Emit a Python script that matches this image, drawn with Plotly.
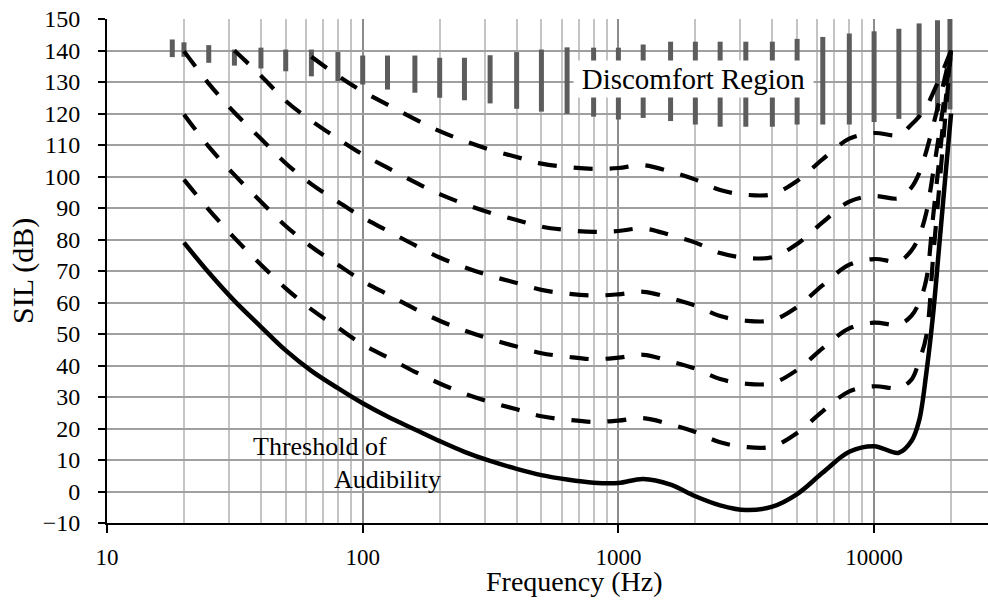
import math
import plotly.graph_objects as go

# ---------------- data ----------------
freq = [20, 25, 31.5, 40, 50, 63, 80, 100, 125, 160, 200, 250, 315, 400, 500, 630,
        800, 1000, 1250, 1600, 2000, 2500, 3150, 4000, 5000, 6300, 8000, 10000, 12500,
        14000, 15000, 16000, 17000, 18000, 19000, 20000]

threshold = [79, 69.5, 60.5, 52.3, 44.8, 38.3, 32.8, 28, 23.8, 19.7, 16, 12.6, 9.7, 7.2, 5.2, 3.8,
             2.8, 2.7, 4, 2.2, -1.5, -4.4, -5.9, -4.8, -0.8, 6, 12.6, 14.4, 12.3,
             16, 22.5, 37.5, 56, 78.5, 100, 120]

phon20 = [99, 89.5, 80.5, 72, 64.5, 57.8, 52, 46.7, 42.6, 38, 34.3, 31.1, 28.4, 26.1, 23.9, 22.8,
          22.1, 22.5, 23.3, 21.3, 18.9, 15.6, 14.1, 14.3, 18.6, 25.5, 31.8, 33.4, 32.9,
          35.5, 41.5, 49.3, 74, 97, 119, 140]

phon40 = [119.7, 109.5, 100.5, 92, 84.3, 77.7, 72, 66.8, 62.6, 58, 54.2, 51.1, 48.4, 46, 43.9, 42.8,
          42, 42.5, 43.4, 41.3, 39, 35.7, 34.2, 34.4, 38.6, 45.5, 51.8, 53.6, 53,
          55.8, 60, 67.3, 87, 105.7, 123.3, 140]

phon60 = [139.8, 129.5, 120.3, 112, 104.2, 97.6, 92, 87, 82.8, 78.2, 74.3, 71.2, 68.5, 66.2, 64, 62.8,
          62.2, 62.6, 63.4, 61.4, 59, 55.7, 54.2, 54.4, 58.6, 65.5, 72, 73.8, 73.1,
          76.5, 81, 88.5, 101, 114, 127, 140]

phon80 = [None, None, 140, 132, 124, 117.7, 112, 107, 102.8, 98.2, 94.4, 91.3, 88.5, 86.2, 84.1, 83,
          82.4, 82.7, 83.5, 81.4, 79, 75.7, 74.2, 74.4, 78.6, 85.5, 92, 93.8, 93.1,
          96.5, 101, 108, 116, 124, 132, 140]

phon100 = [None, None, None, None, None, 138, 132, 127, 122.8, 118.2, 114.4, 111.3, 108.5, 106.2, 104.1, 103,
           102.4, 102.7, 103.6, 101.5, 99, 95.7, 94.2, 94.4, 98.6, 105.5, 112, 113.8, 113.2,
           116.5, 119, 122, 126.5, 131, 135.5, 140]

discomfort_freq = [18, 20, 25, 31.5, 40, 50, 63, 80, 100, 125, 160, 200, 250, 315, 400, 500, 630,
                   800, 1000, 1250, 1600, 2000, 2500, 3150, 4000, 5000, 6300, 8000, 10000, 12500,
                   15000, 17700, 19800]
discomfort_low = [137.9, 138, 136.1, 135.2, 134.3, 133.4, 131.8, 130.3, 129.2, 127.6, 126.6, 125, 124.2,
                  123.2, 121.5, 120.6, 119.9, 119, 118.1, 118.6, 117.6, 116.5, 115.8, 115.8, 115.8,
                  116.5, 116.5, 116.5, 117.3, 118.3, 119.1, 120.7, 121.3]
discomfort_high = [143.5, 142.6, 141.7, 140.3, 140.9, 140.3, 140.3, 139.5, 138.4, 138.4, 138.4, 137.7, 137.7,
                   138.5, 139.5, 140.3, 141, 140.9, 140.9, 141.9, 142.8, 142.8, 142.8, 142.8, 142.8,
                   143.7, 144.3, 145.4, 146.1, 146.9, 148.6, 149.6, 150.5]

x_tick_vals = [10, 100, 1000, 10000]
x_tick_text = ["10", "100", "1000", "10000"]

FONT = "Liberation Serif"

# ---------------- figure ----------------
fig = go.Figure()

# discomfort region bars
bx, by = [], []
for f, lo, hi in zip(discomfort_freq, discomfort_low, discomfort_high):
    bx += [f, f, None]
    by += [lo, hi, None]
fig.add_trace(go.Scatter(x=bx, y=by, mode="lines",
                         line=dict(color="#5c5c5c", width=5),
                         hoverinfo="skip", showlegend=False))

# equal-loudness (dashed) curves
for series in [phon100, phon80, phon60, phon40, phon20]:
    fig.add_trace(go.Scatter(x=freq, y=series, mode="lines",
                             line=dict(color="black", width=4.2, dash="19px,17px",
                                       shape="spline", smoothing=1.0),
                             showlegend=False))

# threshold of audibility
fig.add_trace(go.Scatter(x=freq, y=threshold, mode="lines",
                         line=dict(color="black", width=4.5, shape="spline", smoothing=1.0),
                         showlegend=False))

fig.add_annotation(x=math.log10(1970), y=130.8, xref="x", yref="y",
                   text="Discomfort Region", showarrow=False,
                   font=dict(family=FONT, size=29, color="black"),
                   bgcolor="white", width=237, height=34, borderpad=1)
fig.add_annotation(x=math.log10(68), y=14.3, xref="x", yref="y",
                   text="Threshold of", showarrow=False,
                   font=dict(family=FONT, size=26, color="black"))
fig.add_annotation(x=math.log10(125), y=3.8, xref="x", yref="y",
                   text="Audibility", showarrow=False,
                   font=dict(family=FONT, size=26, color="black"))

# axis titles
fig.add_annotation(x=0.530, y=-0.117, xref="paper", yref="paper",
                   text="Frequency (Hz)", showarrow=False, yanchor="middle",
                   font=dict(family=FONT, size=28, color="black"))
fig.add_annotation(x=-0.0953, y=0.5, xref="paper", yref="paper",
                   text="SIL (dB)", showarrow=False, textangle=-90,
                   xanchor="center", yanchor="middle",
                   font=dict(family=FONT, size=30, color="black"))

fig.update_layout(
    width=988, height=606,
    margin=dict(l=107, r=0, t=19, b=83, autoexpand=False),
    plot_bgcolor="white", paper_bgcolor="white",
    font=dict(family=FONT, color="black"),
    showlegend=False,
    xaxis=dict(
        type="log", range=[1, 4.4455], automargin=False,
        tickmode="array", tickvals=x_tick_vals, ticktext=x_tick_text,
        showline=True, linecolor="black", linewidth=2,
        ticks="outside", ticklen=8, tickwidth=2, tickcolor="black",
        showgrid=True, gridcolor="#8c8c8c", gridwidth=2,
        minor=dict(dtick="D1", showgrid=True, gridcolor="#c4c4c4", gridwidth=2, ticks=""),
        tickfont=dict(family=FONT, size=23, color="black"),
        ticklabelstandoff=4, ticklabeloverflow="allow",
        zeroline=False,
    ),
    yaxis=dict(
        range=[-10, 150], dtick=10, tick0=0, automargin=False,
        showline=True, linecolor="black", linewidth=2,
        ticks="outside", ticklen=7, tickwidth=2, tickcolor="black",
        showgrid=True, gridcolor="#a0a0a0", gridwidth=2,
        tickfont=dict(family=FONT, size=24, color="black"),
        ticklabelstandoff=13, ticklabeloverflow="allow",
        zeroline=False,
    ),
)

# remove the browser's default 8px body margin so the figure fills the window
fig.write_html("out.html", config={"displayModeBar": False},
               post_script="document.body.style.margin='0px';")
